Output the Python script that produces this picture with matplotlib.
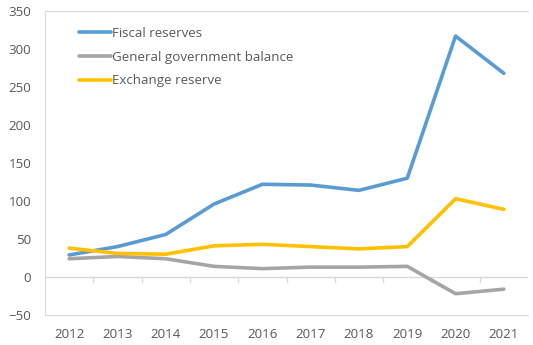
import matplotlib.pyplot as plt
import numpy as np

years = ['2012', '2013', '2014', '2015', '2016', '2017', '2018', '2019', '2020', '2021']
fiscal_reserves = [29, 40, 56, 96, 122, 121, 114, 130, 317, 268]
gov_balance = [24, 27, 24, 14, 11, 13, 13, 14, -22, -16]
exchange_reserve = [38, 31, 30, 41, 43, 40, 37, 40, 103, 89]

plt.rcParams['font.family'] = ['Open Sans', 'DejaVu Sans']
txt = '#595959'
grid_c = '#d9d9d9'

fig = plt.figure(figsize=(5.33, 3.45), dpi=100)
ax = fig.add_axes([45 / 533, 30 / 345, 483 / 533, 304 / 345])

x = np.arange(len(years))
ax.plot(x, fiscal_reserves, color='#5b9bd5', lw=2.6, label='Fiscal reserves', solid_capstyle='round')
ax.plot(x, gov_balance, color='#a5a5a5', lw=2.6, label='General government balance', solid_capstyle='round')
ax.plot(x, exchange_reserve, color='#ffc000', lw=2.6, label='Exchange reserve', solid_capstyle='round')

ax.set_xlim(-0.5, len(years) - 0.5)
ax.set_ylim(-50, 350)
ax.set_yticks(range(-50, 351, 50))
ax.set_xticks(x)
ax.set_xticklabels(years)

# zero axis with category tick marks between years
ax.axhline(0, color=grid_c, lw=1, zorder=0)
for b in np.arange(0.5, len(years) - 0.5, 1):
    ax.plot([b, b], [0, -6], color=grid_c, lw=1, zorder=0)

for side in ['left', 'top', 'bottom']:
    ax.spines[side].set_color(grid_c)
ax.spines['right'].set_visible(False)
ax.tick_params(axis='both', length=0, colors=txt, labelsize=9.6)
ax.tick_params(axis='x', pad=9)
ax.tick_params(axis='y', pad=10)

leg = ax.legend(loc='upper left', bbox_to_anchor=(0.045, 0.987), frameon=False,
                fontsize=9.6, handlelength=2.4, handletextpad=0.1, labelspacing=0.8)
for t in leg.get_texts():
    t.set_color(txt)

fig.savefig('out.png', dpi=100)
